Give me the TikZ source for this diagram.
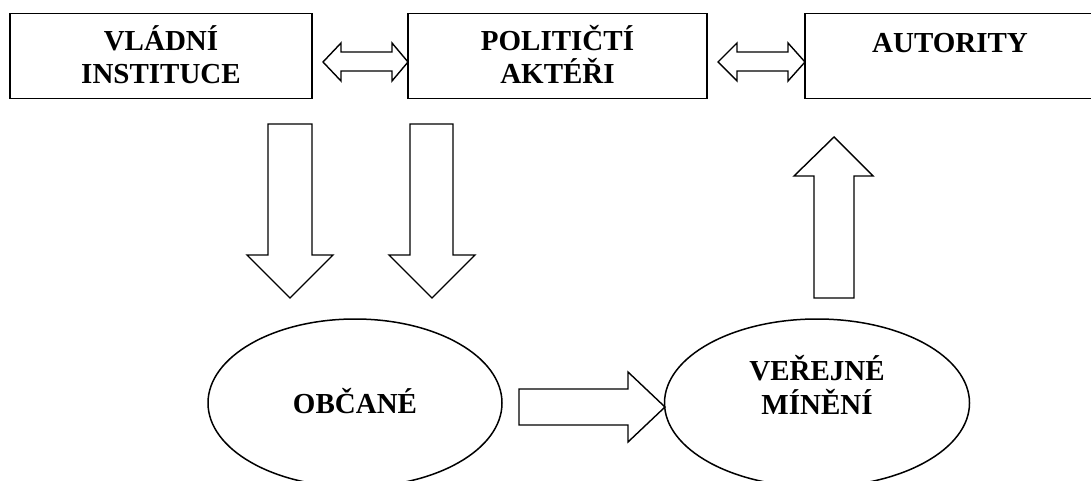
\documentclass[tikz,border=0pt]{standalone}
\usepackage{fontspec}
\setmainfont{Liberation Serif}
\usepackage{tikz}
\usetikzlibrary{shapes.geometric}

\begin{document}
\begin{tikzpicture}[x=1pt,y=-1pt,
  box/.style={draw, line width=1.5pt, rectangle, inner sep=0pt, align=center,
    minimum height=85pt, text height=70pt, text depth=15pt, anchor=north,
    font=\fontsize{29}{33}\selectfont\bfseries},
  oval/.style={draw, ellipse, line width=1.5pt, inner sep=0pt, align=center,
    minimum height=168pt, font=\fontsize{29}{34}\selectfont\bfseries},
  blockarrow/.style={draw, line width=1.4pt, line join=miter}]
  \useasboundingbox (0,0) rectangle (1091,481);
  \clip (0,0) rectangle (1091,481);

  \node[box, minimum width=302pt] (vladni) at (161,13) {VLÁDNÍ\\INSTITUCE};
  \node[box, minimum width=299pt] (politicti) at (557.5,13) {POLITIČTÍ\\AKTÉŘI};
  \node[box, minimum width=290pt, text height=39pt, text depth=46pt] (autority) at (950,13) {AUTORITY};

  \node[oval, minimum width=294pt, text height=20pt, text depth=0pt] (obcane) at (355,403) {OBČANÉ};
  \node[oval, minimum width=305pt, text height=60pt, text depth=38pt] (verejne) at (817,403) {VEŘEJNÉ\\MÍNĚNÍ};

  % oboustranne sipky mezi boxy
  \draw[blockarrow] (323,62) -- (341,43) -- (341,52) -- (392,52) -- (392,43) -- (408,62)
    -- (392,81) -- (392,71) -- (341,71) -- (341,81) -- cycle;
  \draw[blockarrow] (718,62) -- (737,43) -- (737,52) -- (788,52) -- (788,43) -- (805,62)
    -- (788,81) -- (788,71) -- (737,71) -- (737,81) -- cycle;

  % sipky dolu k obcanum
  \draw[blockarrow] (268,124) -- (312,124) -- (312,255) -- (333,255) -- (290,298)
    -- (247,255) -- (268,255) -- cycle;
  \draw[blockarrow] (410,124) -- (453,124) -- (453,255) -- (475,255) -- (432,298)
    -- (389,255) -- (410,255) -- cycle;

  % obcane -> verejne mineni -> autority
  \draw[blockarrow] (519,389) -- (628,389) -- (628,372) -- (665,407) -- (628,442)
    -- (628,425) -- (519,425) -- cycle;
  \draw[blockarrow] (814,298) -- (854,298) -- (854,176) -- (873,176) -- (834,137)
    -- (794,176) -- (814,176) -- cycle;
\end{tikzpicture}
\end{document}
